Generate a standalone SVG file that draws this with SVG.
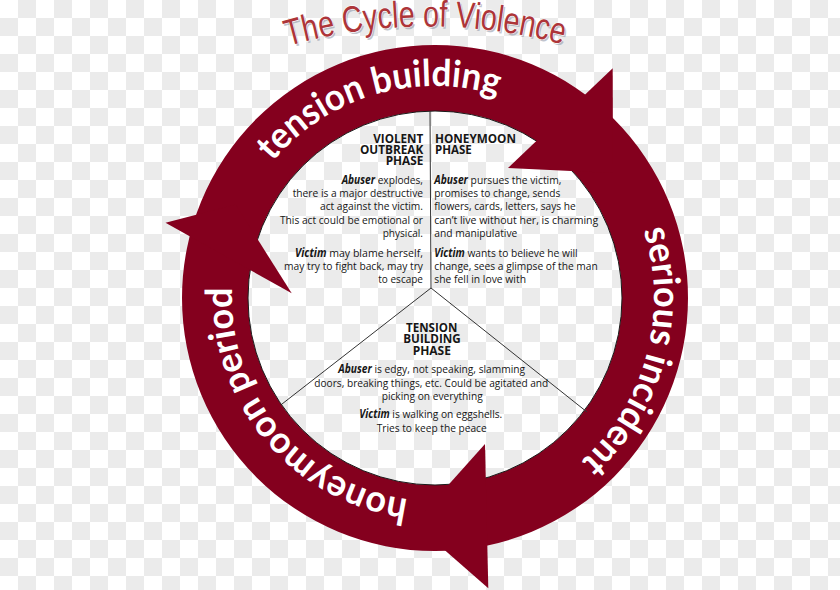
<svg xmlns="http://www.w3.org/2000/svg" width="840" height="590" viewBox="0 0 840 590">
<defs>
<pattern id="checker" x="0" y="0" width="36" height="36" patternUnits="userSpaceOnUse">
<rect width="36" height="36" fill="#ffffff"/>
<rect x="18" y="0" width="18" height="18" fill="#ebebeb"/>
<rect x="0" y="18" width="18" height="18" fill="#ebebeb"/>
</pattern>
<path id="titlePath" d="M288,46 A511,511 0 0 1 568,46"/>
<path id="arcTension" d="M272.6,161.7 A212,212 0 0 1 497.0,95.3"/>
<path id="arcSerious" d="M643.3,230.3 A219,219 0 0 1 578.7,463.3"/>
<path id="arcHoney" d="M408.1,499.2 A203,203 0 0 1 232.3,287.7"/>
</defs>
<style>
.ring{fill:#84001e}
.lbl{font-family:Lato,"Open Sans",sans-serif;font-weight:bold;font-size:37px;fill:#ffffff}
.hd{font-family:"Open Sans",Lato,sans-serif;font-weight:bold;font-size:12px;fill:#161616}
.bd{font-family:"Open Sans",Lato,sans-serif;font-size:11.5px;fill:#161616}
.bi{font-weight:bold;font-style:italic}
.div{stroke:#333333;stroke-width:1;fill:none}
.ttl{font-family:"Liberation Sans",Arial,sans-serif;font-size:37px}
</style>
<rect width="840" height="590" fill="url(#checker)"/>

<g id="title">
<text class="ttl" fill="#8e94a6" opacity="0.55" transform="translate(1.5,2)"><textPath href="#titlePath" textLength="278" lengthAdjust="spacingAndGlyphs">The Cycle of Violence</textPath></text>
<text class="ttl" fill="#ad3539" stroke="#ffffff" stroke-width="1.2" paint-order="stroke"><textPath href="#titlePath" textLength="278" lengthAdjust="spacingAndGlyphs">The Cycle of Violence</textPath></text>
</g>

<g id="cycle-arrows">
<path class="ring" fill-rule="evenodd" d="M182,298 A253,253 0 1 0 688,298 A253,253 0 1 0 182,298 Z M248,298 A187,187 0 1 0 622,298 A187,187 0 1 0 248,298 Z"/>
<circle cx="435" cy="298" r="187" fill="none" stroke="#1a1a1a" stroke-width="1"/>
<polygon class="ring" points="612.7,68.3 508,168 613,173"/>
<polygon class="ring" points="485,444 488.3,588.3 414,523.3"/>
<polygon class="ring" points="291.7,293.3 165.5,222.7 235.7,204.6"/>
</g>

<g id="ring-labels">
<text class="lbl"><textPath href="#arcTension" textLength="248" lengthAdjust="spacingAndGlyphs">tension building</textPath></text>
<text class="lbl"><textPath href="#arcSerious" textLength="253" lengthAdjust="spacingAndGlyphs">serious incident</textPath></text>
<text class="lbl"><textPath href="#arcHoney" textLength="302" lengthAdjust="spacingAndGlyphs">honeymoon period</textPath></text>
</g>

<g id="dividers">
<path class="div" d="M430,111 L431,288 L282,404 M431,288 L587,412"/>
</g>

<g id="phase-violent-outbreak" text-anchor="end">
<text class="hd" x="423.3" y="143.3" textLength="50" lengthAdjust="spacingAndGlyphs">VIOLENT</text>
<text class="hd" x="423.3" y="154.3" textLength="63.3" lengthAdjust="spacingAndGlyphs">OUTBREAK</text>
<text class="hd" x="423.3" y="165.3" textLength="37.6" lengthAdjust="spacingAndGlyphs">PHASE</text>
<text class="bd" x="423" y="184" textLength="81.3" lengthAdjust="spacingAndGlyphs"><tspan class="bi">Abuser</tspan> explodes,</text>
<text class="bd" x="423" y="197" textLength="130.3" lengthAdjust="spacingAndGlyphs">there is a major destructive</text>
<text class="bd" x="423" y="210" textLength="103" lengthAdjust="spacingAndGlyphs">act against the victim.</text>
<text class="bd" x="423" y="223.5" textLength="143" lengthAdjust="spacingAndGlyphs">This act could be emotional or</text>
<text class="bd" x="423" y="237" textLength="40.3" lengthAdjust="spacingAndGlyphs">physical.</text>
<text class="bd" x="423" y="256.5" textLength="128" lengthAdjust="spacingAndGlyphs"><tspan class="bi">Victim</tspan>  may blame herself,</text>
<text class="bd" x="423" y="269.5" textLength="139" lengthAdjust="spacingAndGlyphs">may try to fight back, may try</text>
<text class="bd" x="423" y="282.5" textLength="44.7" lengthAdjust="spacingAndGlyphs">to escape</text>
</g>

<g id="phase-honeymoon">
<text class="hd" x="435" y="143.3" textLength="81" lengthAdjust="spacingAndGlyphs">HONEYMOON</text>
<text class="hd" x="435" y="154.3" textLength="36.7" lengthAdjust="spacingAndGlyphs">PHASE</text>
<text class="bd" x="434.3" y="184" textLength="127" lengthAdjust="spacingAndGlyphs"><tspan class="bi">Abuser</tspan> pursues the victim,</text>
<text class="bd" x="434.3" y="197" textLength="126" lengthAdjust="spacingAndGlyphs">promises to change, sends</text>
<text class="bd" x="434.3" y="210" textLength="141.4" lengthAdjust="spacingAndGlyphs">flowers, cards, letters, says he</text>
<text class="bd" x="434.3" y="223.5" textLength="164" lengthAdjust="spacingAndGlyphs">can’t live without her, is charming</text>
<text class="bd" x="434.3" y="237" textLength="83" lengthAdjust="spacingAndGlyphs">and manipulative</text>
<text class="bd" x="434.3" y="256.5" textLength="143.4" lengthAdjust="spacingAndGlyphs"><tspan class="bi">Victim</tspan>  wants to believe he will</text>
<text class="bd" x="434.3" y="269.5" textLength="163.4" lengthAdjust="spacingAndGlyphs">change, sees a glimpse of the man</text>
<text class="bd" x="434.3" y="282.5" textLength="91.7" lengthAdjust="spacingAndGlyphs">she fell in love with</text>
</g>

<g id="phase-tension-building" text-anchor="middle">
<text class="hd" x="431.7" y="331.7" textLength="51.3" lengthAdjust="spacingAndGlyphs">TENSION</text>
<text class="hd" x="432" y="343.3" textLength="57.4" lengthAdjust="spacingAndGlyphs">BUILDING</text>
<text class="hd" x="431.8" y="355.3" textLength="38.3" lengthAdjust="spacingAndGlyphs">PHASE</text>
<text class="bd" x="431.7" y="373.3" textLength="186.7" lengthAdjust="spacingAndGlyphs"><tspan class="bi">Abuser</tspan> is edgy, not speaking, slamming</text>
<text class="bd" x="431.3" y="386.7" textLength="234" lengthAdjust="spacingAndGlyphs">doors, breaking things, etc. Could be agitated and</text>
<text class="bd" x="432.2" y="400" textLength="101" lengthAdjust="spacingAndGlyphs">picking on everything</text>
<text class="bd" x="430.8" y="418.3" textLength="143" lengthAdjust="spacingAndGlyphs"><tspan class="bi">Victim</tspan>  is walking on eggshells.</text>
<text class="bd" x="431.7" y="431.7" textLength="110" lengthAdjust="spacingAndGlyphs">Tries to keep the peace</text>
</g>
</svg>
